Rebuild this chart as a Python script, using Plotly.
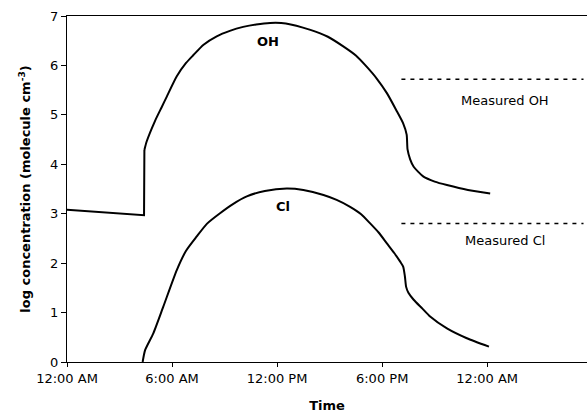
import plotly.graph_objects as go

# ---- data (hours since midnight, log concentration) ----
oh_hours = [0, 4.4, 4.42, 4.55, 5.03, 5.4, 5.7, 6.27, 6.8, 7.22, 7.8, 8.55, 9.3, 10.06,
            10.8, 11.6, 12.5, 13.9, 14.9, 15.8, 16.5, 17.1, 17.7, 18.27, 18.8, 19.2,
            19.4, 19.45, 19.6, 19.8, 20.36, 21.0, 21.7, 22.9, 24.17]
oh_vals = [3.08, 2.97, 4.29, 4.46, 4.88, 5.15, 5.37, 5.78, 6.05, 6.21, 6.42, 6.59, 6.70, 6.78,
           6.83, 6.86, 6.85, 6.72, 6.58, 6.38, 6.20, 5.98, 5.73, 5.44, 5.10, 4.83,
           4.60, 4.30, 4.10, 3.95, 3.75, 3.65, 3.58, 3.48, 3.41]

cl_hours = [4.32, 4.46, 4.93, 5.5, 6.27, 6.8, 7.41, 8.0, 8.74, 9.5, 10.27, 11.3, 12.55,
            13.5, 14.65, 15.4, 16.17, 16.8, 17.3, 17.8, 18.27, 18.7, 19.03, 19.2, 19.3,
            19.37, 19.5, 19.8, 20.3, 20.74, 21.7, 22.84, 24.1]
cl_vals = [0, 0.24, 0.58, 1.12, 1.86, 2.25, 2.54, 2.80, 3.01, 3.20, 3.35, 3.46, 3.51,
           3.48, 3.38, 3.28, 3.14, 2.99, 2.81, 2.62, 2.40, 2.20, 2.03, 1.93, 1.73,
           1.52, 1.40, 1.26, 1.08, 0.92, 0.68, 0.48, 0.31]

measured_hours = [19.1, 29.5]
measured_oh = 5.72
measured_cl = 2.80

tick_hours = [0, 6, 12, 18, 24]
tick_labels = ["12:00 AM", "6:00 AM", "12:00 PM", "6:00 PM", "12:00 AM"]

FONT = "DejaVu Sans"
LINE = dict(color="black", width=2)

fig = go.Figure()
# OH: night-time segment and sunrise jump drawn straight, daytime curve smoothed
fig.add_trace(go.Scatter(x=oh_hours[:3], y=oh_vals[:3], mode="lines", line=LINE))
fig.add_trace(go.Scatter(x=oh_hours[2:], y=oh_vals[2:], mode="lines",
                         line=dict(LINE, shape="spline", smoothing=0.6)))
# Cl
fig.add_trace(go.Scatter(x=cl_hours, y=cl_vals, mode="lines",
                         line=dict(LINE, shape="spline", smoothing=0.6)))
# measured levels
fig.add_trace(go.Scatter(x=measured_hours, y=[measured_oh] * 2, mode="lines",
                         line=dict(color="black", width=1.5, dash="4px,5px")))
fig.add_trace(go.Scatter(x=measured_hours, y=[measured_cl] * 2, mode="lines",
                         line=dict(color="black", width=1.5, dash="4px,5px")))

annots = [
    dict(x=11.5, y=6.48, text="<b>OH</b>"),
    dict(x=12.35, y=3.14, text="<b>Cl</b>"),
    dict(x=25.0, y=5.30, text="Measured OH"),
    dict(x=25.0, y=2.45, text="Measured Cl"),
]
for a in annots:
    fig.add_annotation(x=a["x"], y=a["y"], text=a["text"], showarrow=False,
                       font=dict(family=FONT, size=13, color="black"))

fig.update_layout(
    width=587, height=417,
    margin=dict(l=67, r=0, t=16, b=55),
    paper_bgcolor="white", plot_bgcolor="white",
    showlegend=False,
    font=dict(family=FONT, size=13, color="black"),
    xaxis=dict(range=[0, 29.7], tickvals=tick_hours, ticktext=tick_labels,
               showgrid=False, zeroline=False, showline=True, mirror=True,
               linecolor="black", linewidth=1, ticks="outside", ticklen=4,
               tickcolor="black",
               title=dict(text="<b>Time</b>", standoff=16,
                          font=dict(family=FONT, size=13))),
    yaxis=dict(range=[0, 7], dtick=1, showgrid=False, zeroline=False,
               showline=True, linecolor="black", linewidth=1,
               ticks="outside", ticklen=5, tickcolor="black",
               title=dict(text="<b>log concentration (molecule cm<sup>-3</sup>)</b>",
                          standoff=16, font=dict(family=FONT, size=13))),
)

fig.write_html("out.html")
